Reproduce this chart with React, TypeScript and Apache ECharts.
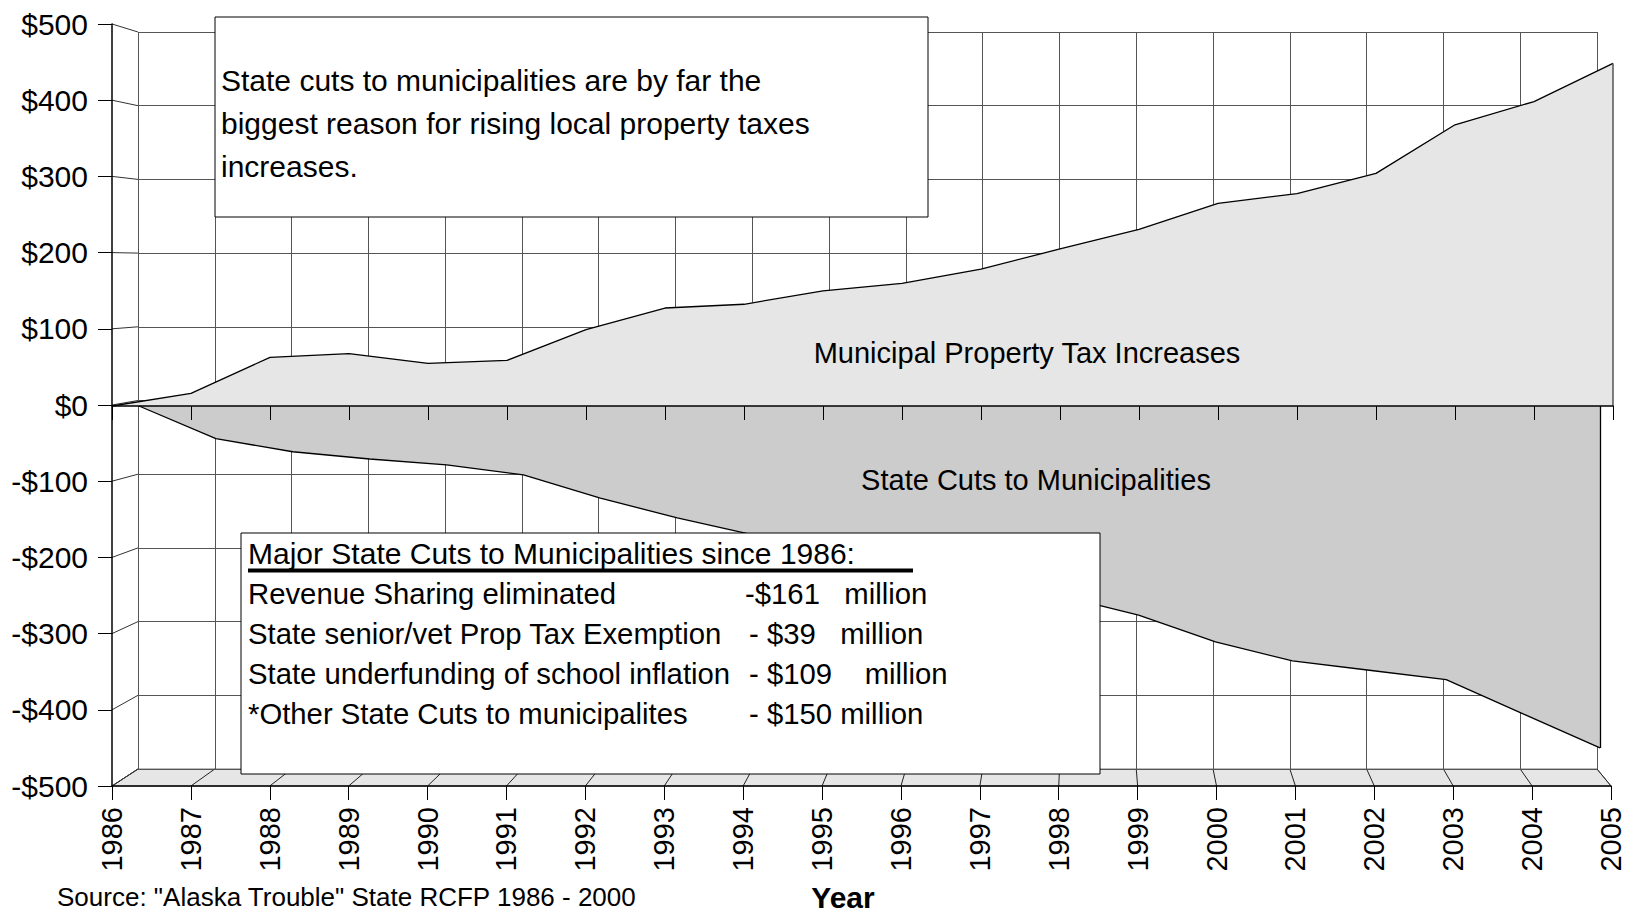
import React, { useEffect, useRef } from 'react';
import * as echarts from 'echarts';

const years = ['1986', '1987', '1988', '1989', '1990', '1991', '1992', '1993', '1994', '1995', '1996', '1997', '1998', '1999', '2000', '2001', '2002', '2003', '2004', '2005'];
const propertyTaxIncreases = [0, 17, 65, 70, 57, 61, 102, 131, 136, 154, 164, 183, 210, 236, 271, 284, 311, 376, 407, 458];
const stateCuts = [0, -45, -63, -73, -81, -95, -127, -154, -178, -192, -212, -235, -262, -288, -325, -351, -364, -377, -424, -471];
const yMin = -500;
const yMax = 500;
const yStep = 100;

const noteLines = [
  'State cuts to municipalities are by far the',
  'biggest reason for rising local property taxes',
  'increases.',
];
const cutsTitle = 'Major State Cuts to Municipalities since 1986:';
const cutItems = [
  'Revenue Sharing eliminated',
  'State senior/vet Prop Tax Exemption',
  'State underfunding of school inflation',
  '*Other State Cuts to municipalites',
];
const cutAmounts = ['-$161   million', '- $39   million', '- $109    million', '- $150 million'];
const upperLabel = 'Municipal Property Tax Increases';
const lowerLabel = 'State Cuts to Municipalities';
const xAxisTitle = 'Year';
const sourceNote = 'Source: "Alaska Trouble" State RCFP 1986 - 2000';

const FONT = '"Liberation Sans", Arial, Helvetica, sans-serif';
const money = (v: number) => (v < 0 ? '-$' + Math.abs(v) : '$' + v);

export default function App() {
  const ref = useRef<HTMLDivElement>(null);

  useEffect(() => {
    document.body.style.margin = '0';
    document.body.style.overflow = 'hidden';
    const chart = echarts.init(ref.current!, null, { renderer: 'svg' });
    const last = years.length - 1;

    const option: any = {
      animation: false,
      backgroundColor: '#ffffff',
      textStyle: { fontFamily: FONT },
      grid: [
        { left: 138, top: 32, width: 1459, height: 737 },
        { left: 112, top: 32, width: 1501, height: 748 },
        { left: 139, top: 43, width: 1461, height: 726 },
        { left: 112, top: 24, width: 1499, height: 762 },
      ],
      xAxis: [
        {
          type: 'category', gridIndex: 0, data: years, boundaryGap: false,
          axisLine: { show: false }, axisTick: { show: false }, axisLabel: { show: false },
          splitLine: { show: true, lineStyle: { color: '#555', width: 1 } },
        },
        {
          type: 'category', gridIndex: 1, data: years, boundaryGap: false, z: 10,
          axisLine: { show: true, onZero: true, lineStyle: { color: '#000', width: 1.5 } },
          axisTick: { show: true, length: 14, lineStyle: { color: '#000', width: 1 } },
          axisLabel: { show: false }, splitLine: { show: false },
        },
        { type: 'category', gridIndex: 2, data: years, boundaryGap: false, show: false },
        {
          type: 'category', gridIndex: 3, data: years, boundaryGap: false,
          axisLine: { show: true, onZero: false, lineStyle: { color: '#000', width: 1.5 } },
          axisTick: { show: true, length: 14, lineStyle: { color: '#000', width: 1 } },
          axisLabel: { rotate: 90, fontSize: 29, color: '#000', margin: 21, fontFamily: FONT },
          splitLine: { show: false },
        },
      ],
      yAxis: [
        {
          type: 'value', gridIndex: 0, min: yMin, max: yMax, interval: yStep,
          axisLine: { show: false }, axisTick: { show: false }, axisLabel: { show: false },
          splitLine: { show: true, lineStyle: { color: '#555', width: 1 } },
        },
        {
          type: 'value', gridIndex: 1, min: yMin, max: yMax, interval: yStep,
          axisLine: { show: false }, axisTick: { show: false }, axisLabel: { show: false },
          splitLine: { show: false },
        },
        { type: 'value', gridIndex: 2, min: yMin, max: yMax, interval: yStep, show: false },
        {
          type: 'value', gridIndex: 3, min: yMin, max: yMax, interval: yStep,
          axisLine: { show: true, lineStyle: { color: '#000', width: 1.5 } },
          axisTick: { show: true, length: 14, lineStyle: { color: '#000', width: 1 } },
          axisLabel: { fontSize: 30, color: '#000', margin: 24, fontFamily: FONT, formatter: money },
          splitLine: { show: false },
        },
      ],
      series: [
        {
          name: upperLabel, type: 'line', xAxisIndex: 1, yAxisIndex: 1,
          data: propertyTaxIncreases, symbol: 'none', z: 3,
          lineStyle: { color: '#000', width: 1.3 },
          areaStyle: { color: '#e6e6e6', opacity: 1 },
          markLine: {
            silent: true, symbol: ['none', 'none'], label: { show: false },
            lineStyle: { color: '#555', width: 1.5, type: 'solid' },
            data: [[{ coord: [years[last], 0] }, { coord: [years[last], propertyTaxIncreases[last]] }]],
          },
        },
        {
          name: lowerLabel, type: 'line', xAxisIndex: 2, yAxisIndex: 2,
          data: stateCuts, symbol: 'none', z: 3,
          lineStyle: { color: '#000', width: 1.3 },
          areaStyle: { color: '#cccccc', opacity: 1 },
          markLine: {
            silent: true, symbol: ['none', 'none'], label: { show: false },
            lineStyle: { color: '#000', width: 1.3, type: 'solid' },
            data: [[{ coord: [years[last], 0] }, { coord: [years[last], stateCuts[last]] }]],
          },
        },
      ],
    };
    chart.setOption(option);

    const at = (g: number, i: number, v: number) =>
      chart.convertToPixel({ gridIndex: g } as any, [i, v]) as unknown as number[];

    const elements: any[] = [];
    const b0 = at(0, 0, yMin);
    const b1 = at(0, last, yMin);
    const f0 = at(3, 0, yMin);
    const f1 = at(3, last, yMin);
    elements.push({
      type: 'polygon', z: -5, silent: true,
      shape: { points: [b0, b1, f1, f0] },
      style: { fill: '#e6e6e6', stroke: '#777', lineWidth: 1 },
    });
    years.forEach((_, i) => {
      const p = at(0, i, yMin);
      const q = at(3, i, yMin);
      elements.push({
        type: 'line', z: -4, silent: true,
        shape: { x1: p[0], y1: p[1], x2: q[0], y2: q[1] },
        style: { stroke: '#222', lineWidth: 1 },
      });
    });
    for (let v = yMin; v <= yMax; v += yStep) {
      const p = at(3, 0, v);
      const q = at(0, 0, v);
      elements.push({
        type: 'line', z: -4, silent: true,
        shape: { x1: p[0], y1: p[1], x2: q[0], y2: q[1] },
        style: { stroke: '#333', lineWidth: 1 },
      });
    }

    // note box
    elements.push({
      type: 'rect', z: 100, shape: { x: 215, y: 17, width: 713, height: 200 },
      style: { fill: '#fff', stroke: '#000', lineWidth: 1 },
    });
    noteLines.forEach((t, k) => {
      elements.push({
        type: 'text', z: 101, x: 221, y: 80 + k * 43,
        style: { text: t, fontSize: 30, fontFamily: FONT, fill: '#000', align: 'left', verticalAlign: 'middle' },
      });
    });

    // cuts box
    elements.push({
      type: 'rect', z: 100, shape: { x: 241, y: 533, width: 859, height: 241 },
      style: { fill: '#fff', stroke: '#000', lineWidth: 1 },
    });
    elements.push({
      type: 'text', z: 101, x: 248, y: 553,
      style: { text: cutsTitle, fontSize: 30, fontFamily: FONT, fill: '#000', align: 'left', verticalAlign: 'middle' },
    });
    elements.push({
      type: 'rect', z: 101, shape: { x: 248, y: 568.5, width: 665, height: 4 },
      style: { fill: '#000' },
    });
    cutItems.forEach((t, k) => {
      const y = 593 + k * 40.3;
      elements.push({
        type: 'text', z: 101, x: 248, y,
        style: { text: t, fontSize: 29.3, fontFamily: FONT, fill: '#000', align: 'left', verticalAlign: 'middle' },
      });
      elements.push({
        type: 'text', z: 101, x: k === 0 ? 745 : 749, y,
        style: { text: cutAmounts[k], fontSize: 29.3, fontFamily: FONT, fill: '#000', align: 'left', verticalAlign: 'middle' },
      });
    });

    elements.push({
      type: 'text', z: 50, x: 1027, y: 353,
      style: { text: upperLabel, fontSize: 29, fontFamily: FONT, fill: '#000', align: 'center', verticalAlign: 'middle' },
    });
    elements.push({
      type: 'text', z: 50, x: 1036, y: 480,
      style: { text: lowerLabel, fontSize: 29, fontFamily: FONT, fill: '#000', align: 'center', verticalAlign: 'middle' },
    });
    elements.push({
      type: 'text', z: 50, x: 843, y: 897,
      style: { text: xAxisTitle, fontSize: 30, fontWeight: 'bold', fontFamily: FONT, fill: '#000', align: 'center', verticalAlign: 'middle' },
    });
    elements.push({
      type: 'text', z: 50, x: 57, y: 910,
      style: { text: sourceNote, fontSize: 26, fontFamily: FONT, fill: '#000', align: 'left', verticalAlign: 'bottom' },
    });

    chart.setOption({ graphic: { elements } });

    return () => {
      chart.dispose();
    };
  }, []);

  return <div ref={ref} style={{ width: 1627, height: 912 }} />;
}
